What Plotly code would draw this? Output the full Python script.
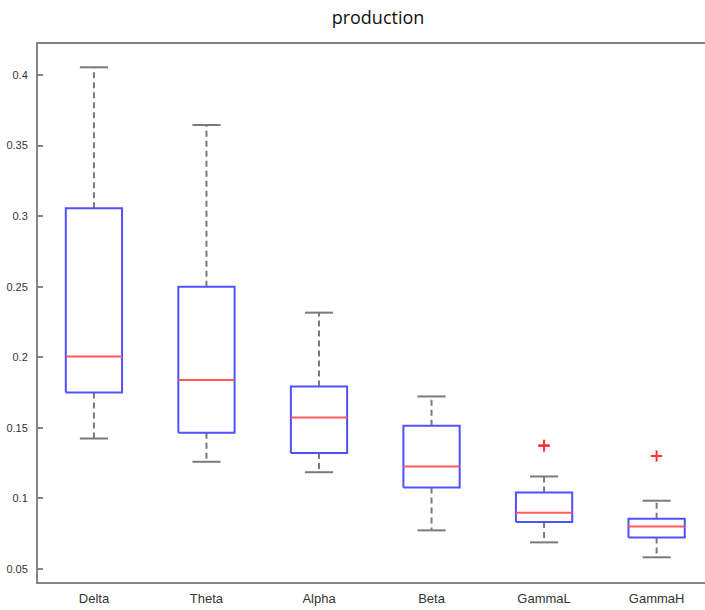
import plotly.graph_objects as go

categories = ["Delta", "Theta", "Alpha", "Beta", "GammaL", "GammaH"]
lower_whisker = [0.1424, 0.1259, 0.1185, 0.0773, 0.0688, 0.0582]
q1 = [0.1750, 0.1465, 0.1322, 0.1077, 0.0832, 0.0723]
median = [0.2005, 0.1839, 0.1573, 0.1226, 0.0898, 0.0801]
q3 = [0.3056, 0.2500, 0.1792, 0.1514, 0.1042, 0.0856]
upper_whisker = [0.4055, 0.3646, 0.2316, 0.1722, 0.1155, 0.0983]
outlier_cat = ["GammaL", "GammaL", "GammaH"]
outlier_val = [0.1370, 0.1376, 0.1300]
y_ticks = [0.05, 0.1, 0.15, 0.2, 0.25, 0.3, 0.35, 0.4]

BOX_HALF = 0.25
CAP_HALF = 0.125
pos = {c: i + 1 for i, c in enumerate(categories)}

box_x, box_y = [], []
med_x, med_y = [], []
wh_x, wh_y = [], []
cap_x, cap_y = [], []
for i, c in enumerate(categories):
    p = pos[c]
    box_x += [p - BOX_HALF, p + BOX_HALF, p + BOX_HALF, p - BOX_HALF, p - BOX_HALF, None]
    box_y += [q1[i], q1[i], q3[i], q3[i], q1[i], None]
    med_x += [p - BOX_HALF, p + BOX_HALF, None]
    med_y += [median[i], median[i], None]
    wh_x += [p, p, None, p, p, None]
    wh_y += [q3[i], upper_whisker[i], None, q1[i], lower_whisker[i], None]
    cap_x += [p - CAP_HALF, p + CAP_HALF, None, p - CAP_HALF, p + CAP_HALF, None]
    cap_y += [upper_whisker[i], upper_whisker[i], None, lower_whisker[i], lower_whisker[i], None]

fig = go.Figure()
fig.add_trace(go.Scatter(x=wh_x, y=wh_y, mode="lines",
                         line=dict(color="#7a7a7a", width=2, dash="6px,4px"),
                         hoverinfo="skip", showlegend=False))
fig.add_trace(go.Scatter(x=cap_x, y=cap_y, mode="lines",
                         line=dict(color="#7a7a7a", width=2),
                         hoverinfo="skip", showlegend=False))
fig.add_trace(go.Scatter(x=box_x, y=box_y, mode="lines",
                         line=dict(color="#5050ff", width=2),
                         hoverinfo="skip", showlegend=False))
fig.add_trace(go.Scatter(x=med_x, y=med_y, mode="lines",
                         line=dict(color="#ff5a5a", width=2),
                         hoverinfo="skip", showlegend=False))
fig.add_trace(go.Scatter(x=[pos[c] for c in outlier_cat], y=outlier_val, mode="markers",
                         marker=dict(symbol="cross-thin", size=8,
                                     line=dict(color="#ff3030", width=2)),
                         showlegend=False))

fig.update_layout(
    width=705, height=610,
    margin=dict(l=38, r=0, t=44, b=28),
    paper_bgcolor="white", plot_bgcolor="white",
    title=dict(text="production", x=378 / 705, xref="container", xanchor="center",
               y=1 - 18 / 610, yref="container", yanchor="middle",
               font=dict(family="Open Sans", size=18, color="#111111")),
    xaxis=dict(range=[0.503, 6.43], tickvals=list(range(1, len(categories) + 1)),
               ticktext=categories, showgrid=False, zeroline=False,
               showline=True, linecolor="#858585", linewidth=2, mirror=True,
               ticks="", ticklabelstandoff=3,
               tickfont=dict(family="Liberation Sans", size=13, color="#333333")),
    yaxis=dict(range=[0.0407, 0.422], tickvals=y_ticks,
               ticktext=[f"{v:g}" for v in y_ticks], showgrid=False, zeroline=False,
               showline=True, linecolor="#858585", linewidth=2, mirror=False,
               ticks="inside", ticklen=5, tickwidth=1.5, tickcolor="#858585",
               ticklabelstandoff=6,
               tickfont=dict(family="Liberation Sans", size=11, color="#333333")),
)

fig.write_html("out.html")
